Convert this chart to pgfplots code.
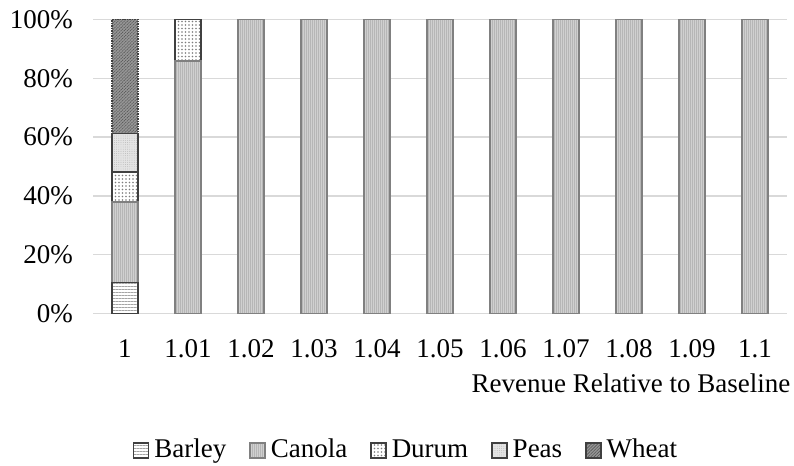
\documentclass[border=0pt]{standalone}
\usepackage{fontspec}
\setmainfont{Liberation Serif}
\usepackage{pgfplots}
\pgfplotsset{compat=1.18}
\usetikzlibrary{patterns.meta}

\definecolor{gridgray}{RGB}{217,217,217}
\definecolor{edgedark}{RGB}{64,64,64}
\definecolor{canolafill}{RGB}{208,208,208}
\definecolor{canolaline}{RGB}{182,182,182}
\definecolor{canolaedge}{RGB}{128,128,128}
\definecolor{peasfill}{RGB}{228,228,228}
\definecolor{peasdot}{RGB}{180,180,180}
\definecolor{wheatfill}{RGB}{150,150,150}
\definecolor{wheatline}{RGB}{85,85,85}
\definecolor{barleyline}{RGB}{165,165,165}
\definecolor{durumdot}{RGB}{125,125,125}

\newcommand\chartfont{\fontsize{27bp}{32bp}\selectfont}

\pgfplotsset{
  cropbar/.style={ybar, bar width=26bp, bar shift=0pt, line width=1.5bp},
  barley/.style={cropbar, draw=edgedark, fill=white,
    postaction={pattern={Lines[angle=0,distance=3bp,line width=0.6bp]}, pattern color=barleyline}},
  canola/.style={cropbar, draw=canolaedge, fill=canolafill,
    postaction={pattern={Lines[angle=90,distance=2bp,line width=0.5bp]}, pattern color=canolaline}},
  durum/.style={cropbar, draw=edgedark, fill=white,
    postaction={pattern={Dots[distance=3.5bp,radius=0.85bp]}, pattern color=durumdot}},
  peas/.style={cropbar, draw=edgedark, fill=peasfill,
    postaction={pattern={Dots[distance=2.2bp,radius=0.45bp]}, pattern color=peasdot}},
  wheat/.style={cropbar, draw=edgedark, densely dotted, fill=wheatfill,
    postaction={pattern={Lines[angle=45,distance=2.2bp,line width=0.6bp]}, pattern color=wheatline}},
}

\begin{document}
\begin{tikzpicture}
\begin{axis}[
  scale only axis,
  width=693bp, height=294bp,
  xmin=-0.5, xmax=10.5,
  ymin=0, ymax=100,
  axis x line*=bottom, axis y line*=left,
  x axis line style={draw=gridgray, line width=1.5bp, -},
  y axis line style={draw=none},
  major tick length=0pt,
  ymajorgrids,
  grid style={draw=gridgray, line width=1.5bp},
  ytick={0,20,40,60,80,100},
  yticklabel={\pgfmathprintnumber{\tick}\%},
  xtick={0,...,10},
  xticklabels={1,1.01,1.02,1.03,1.04,1.05,1.06,1.07,1.08,1.09,1.1},
  /pgf/number format/assume math mode=true,
  tick label style={font=\chartfont},
  yticklabel style={xshift=-17bp},
  xticklabel style={yshift=-23bp},
  xlabel={Revenue Relative to Baseline},
  xlabel style={font=\chartfont, inner sep=0pt, at={(rel axis cs:1,0)},
    anchor=base east, xshift=4bp, yshift=-79bp},
  legend columns=5,
  reverse legend,
  legend image code/.code={\draw[#1, solid] (0bp,0bp) rectangle (15bp,15bp);},
  legend style={draw=none, fill=none, font=\chartfont,
    at={(0.4495,-0.468)}, anchor=center,
    nodes={inner sep=0pt, anchor=base west, text height=0.69em, text depth=0.22em},
    /tikz/every odd column/.append style={column sep=5bp},
    /tikz/every even column/.append style={column sep=23bp}},
]
% Each bar is drawn from the top of its stack downward, so the
% coordinates below are the upper edge of every crop segment.
\addplot[wheat] coordinates {(0,100)};
\addlegendentry{Wheat}
\addplot[peas] coordinates {(0,61.3)};
\addlegendentry{Peas}
\addplot[durum] coordinates {(0,48.2) (1,100)};
\addlegendentry{Durum}
\addplot[canola] coordinates {(0,38.0) (1,85.9) (2,100) (3,100) (4,100)
  (5,100) (6,100) (7,100) (8,100) (9,100) (10,100)};
\addlegendentry{Canola}
\addplot[barley] coordinates {(0,10.5)};
\addlegendentry{Barley}
\end{axis}
\pgfresetboundingbox
\path[use as bounding box]
  ([shift={(-93.5bp,-152.5bp)}]current axis.south west)
  rectangle ([shift={(7.5bp,19.5bp)}]current axis.north east);
\end{tikzpicture}
\end{document}
